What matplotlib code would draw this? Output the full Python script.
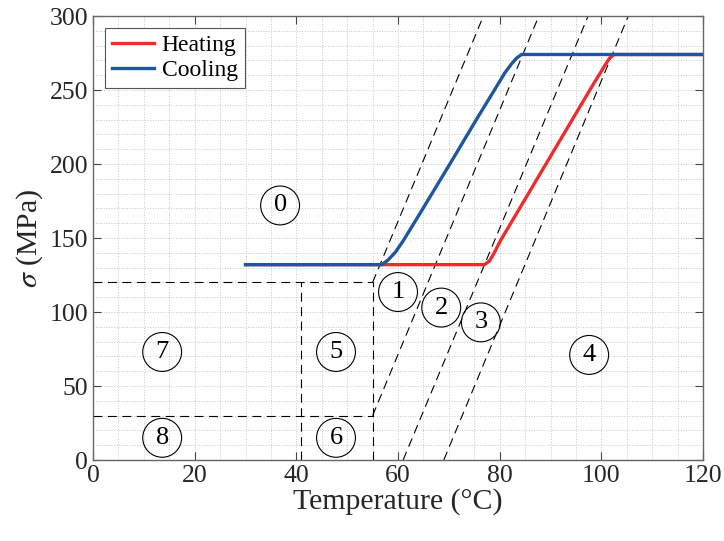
import matplotlib
matplotlib.use("Agg")
import matplotlib.pyplot as plt
from matplotlib.ticker import MultipleLocator

plt.rcParams['font.family'] = ['Liberation Serif', 'DejaVu Serif']
plt.rcParams['mathtext.fontset'] = 'stix'

# Heating / cooling stress-temperature paths
heat_T = [30, 77.0, 78.0, 79.0, 80.2, 85.3, 91.9, 98.4, 100.5, 101.6, 102.5, 120]
heat_s = [132, 132, 134.5, 140.5, 148.5, 178, 216.2, 253.8, 265.5, 271.5, 274, 274]
cool_T = [30, 56.8, 58.0, 59.5, 61.0, 64.3, 70.2, 75.5, 79.5, 81.0, 82.3, 83.3, 84.3, 120]
cool_s = [132, 132, 135, 140.5, 148, 166.5, 200, 230.5, 253, 261.5, 267.5, 271.5, 274, 274]

# Region boundaries (dashed)
diag_T0 = [55, 55, 61, 69]
diag_s0 = [120, 30, 0, 0]
diag_T1 = [76.8, 87.7, 97.4, 105.3]
diag_s1 = [300, 300, 300, 300]
horiz_s = [120, 30]
horiz_T = [0, 55]
vert_T = [41, 55]
vert_s = [0, 120]

# Region labels
region_names = ['0', '1', '2', '3', '4', '5', '6', '7', '8']
region_T = [36.8, 60.0, 68.5, 76.3, 97.6, 47.8, 47.8, 13.6, 13.6]
region_s = [172, 113.5, 103, 93, 71, 73, 15, 73, 15]

fig, ax = plt.subplots(figsize=(7.24, 5.41), dpi=100)
fig.subplots_adjust(left=0.1285, right=0.971, bottom=0.1497, top=0.9704)

dash = dict(color='black', lw=0.8, ls=(0, (8, 5)))
for s in horiz_s:
    ax.plot(horiz_T, [s, s], **dash)
for t in vert_T:
    ax.plot([t, t], vert_s, **dash)
for i in range(len(diag_T0)):
    ax.plot([diag_T0[i], diag_T1[i]], [diag_s0[i], diag_s1[i]], **dash)

ax.plot(heat_T, heat_s, color='#EE2C2C', lw=2.4, label='Heating')
ax.plot(cool_T, cool_s, color='#1E56A0', lw=2.4, label='Cooling')

for name, t, s in zip(region_names, region_T, region_s):
    ax.text(t, s, name, fontsize=19, ha='center', va='center',
            bbox=dict(boxstyle='circle,pad=0.32', fc='none', ec='black', lw=0.8))

ax.set_xlim(0, 120)
ax.set_ylim(0, 300)
ax.xaxis.set_major_locator(MultipleLocator(20))
ax.xaxis.set_minor_locator(MultipleLocator(5))
ax.yaxis.set_major_locator(MultipleLocator(50))
ax.yaxis.set_minor_locator(MultipleLocator(10))
ax.grid(which='both', ls=':', color='#c8c8c8', lw=0.7)
ax.set_axisbelow(True)
ax.tick_params(which='major', direction='in', length=6, top=True, right=True,
               labelsize=18.5, color='#444444', labelcolor='#262626')
ax.tick_params(which='minor', length=0)
for sp in ax.spines.values():
    sp.set_color('#666666')
    sp.set_linewidth(1.0)

ax.set_xlabel('Temperature (°C)', fontsize=21.5, color='#262626', labelpad=1)
ax.set_ylabel(r'$\sigma$ (MPa)', fontsize=21.5, color='#262626', labelpad=3)

leg = ax.legend(loc='upper left', fontsize=17, handlelength=1.8, fancybox=False,
                framealpha=1, edgecolor='#555555', borderaxespad=0.5,
                borderpad=0.3, labelspacing=0.12, handletextpad=0.3)
leg.get_frame().set_linewidth(0.8)

fig.savefig('out.png', dpi=100)
